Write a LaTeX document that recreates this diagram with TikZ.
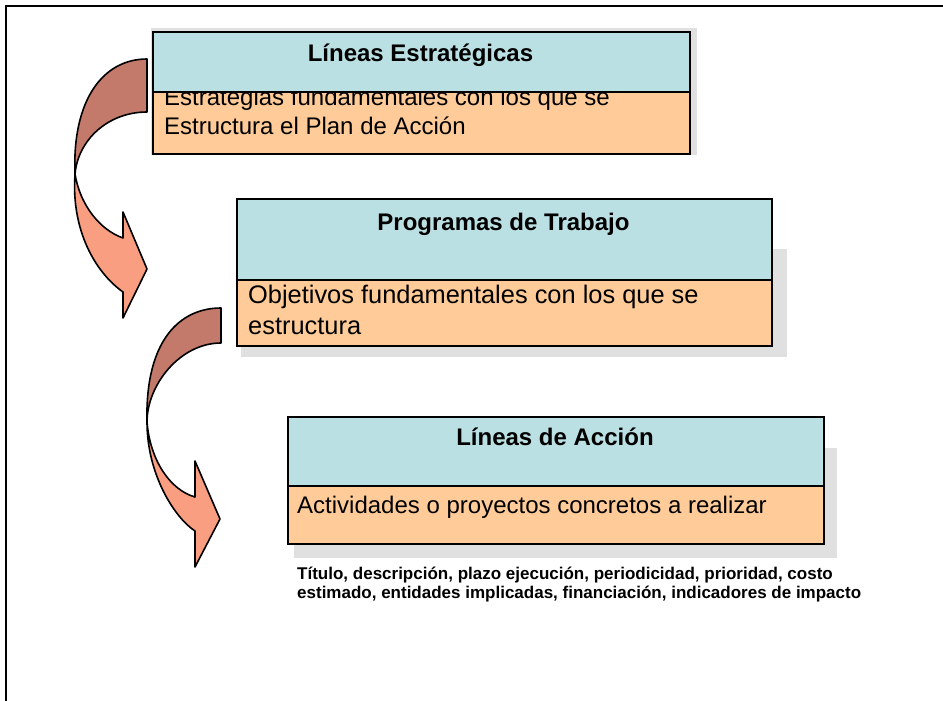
\documentclass[tikz,border=0pt]{standalone}
\usepackage{fontspec}
\setmainfont{Liberation Sans}
\usetikzlibrary{positioning}

\definecolor{cabecera}{RGB}{187,224,227}
\definecolor{cuerpo}{RGB}{255,204,153}
\definecolor{flechaosc}{RGB}{196,122,106}
\definecolor{flechacla}{RGB}{250,158,130}
\definecolor{sombra}{RGB}{224,224,224}

\tikzset{
  caja/.style={draw=black, line width=1.6, inner sep=0, anchor=north west},
  cajacab/.style={caja, fill=cabecera},
  cajacue/.style={caja, fill=cuerpo},
  titulo/.style={anchor=base, inner sep=0, font=\fontsize{24}{29}\selectfont\bfseries},
  texto/.style={anchor=base west, inner sep=0, align=left, font=\fontsize{24}{29}\selectfont},
  flecha/.style={draw=black, line width=1.6, line join=round}
}

\begin{document}
\begin{tikzpicture}[x=1pt, y=-1pt]
	\useasboundingbox (0,0) rectangle (943,701);
	\draw[line width=2] (6,701) -- (6,6) -- (943,6);

	% sombras
	\fill[sombra] (151,28) rectangle (697,155);
	\fill[sombra] (241,249) rectangle (787,357);
	\fill[sombra] (294,448) rectangle (837,558);

	% Lineas Estrategicas
	\node[cajacue, minimum width=537pt, minimum height=62pt] (lineasB) at (152,91) {};
	\node[texto] (lineasTxt) at (164,135) {Estrategias fundamentales con los que se\\Estructura el Plan de Acción};
	\node[cajacab, minimum width=537pt, minimum height=60pt] (lineasC) at (152,31) {};
	\node[titulo] (lineasT) at (420.5,62) {Líneas Estratégicas};

	% Programas de Trabajo
	\node[cajacue, minimum width=535pt, minimum height=66pt] (progB) at (236,279) {};
	\node[texto, font=\fontsize{25.4}{31}\selectfont] (progTxt) at (248,334) {Objetivos fundamentales con los que se\\estructura};
	\node[cajacab, minimum width=535pt, minimum height=81pt] (progC) at (236,198) {};
	\node[titulo] (progT) at (503.5,230) {Programas de Trabajo};

	% Lineas de Accion
	\node[cajacue, minimum width=536pt, minimum height=58pt] (accB) at (287,485) {};
	\node[texto] (accTxt) at (297,513) {Actividades o proyectos concretos a realizar};
	\node[cajacab, minimum width=536pt, minimum height=69pt] (accC) at (287,416) {};
	\node[titulo] (accT) at (555,445) {Líneas de Acción};

	\node[texto, font=\fontsize{17}{19}\selectfont\bfseries] (accNota) at (297,598) {Título, descripción, plazo ejecución, periodicidad, prioridad, costo\\estimado, entidades implicadas, financiación, indicadores de impacto};

	% flecha 1
	\draw[flecha, fill=flechaosc] (147,59) .. controls (103,59) and (72,100) .. (75,174) .. controls (78,140) and (108,112) .. (147,112) -- cycle;
	\draw[flecha, fill=flechacla] (75,174) .. controls (71,230) and (95,272) .. (123,292) -- (123,318) -- (147,269) -- (123,212) -- (123,238) .. controls (100,230) and (80,205) .. (75,174) -- cycle;

	% flecha 2
	\draw[flecha, fill=flechaosc] (221,308) .. controls (180,308) and (145,340) .. (147,422) .. controls (147,385) and (180,343) .. (221,343) -- cycle;
	\draw[flecha, fill=flechacla] (147,422) .. controls (147,475) and (175,518) .. (195,531) -- (195,567) -- (220,519) -- (195,461) -- (195,497) .. controls (170,490) and (150,460) .. (147,422) -- cycle;
\end{tikzpicture}
\end{document}
